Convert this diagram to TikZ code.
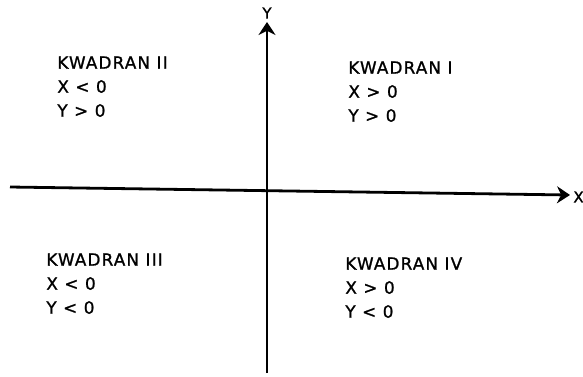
\documentclass[tikz,border=0pt]{standalone}
\usepackage{fontspec}
\setmainfont{DejaVu Sans}
\newfontfamily\kwfont[LetterSpace=7, FakeBold=1.2]{DejaVu Sans}
\usepackage{tikz}
\usetikzlibrary{arrows.meta}

\begin{document}
\begin{tikzpicture}[x=1pt, y=-1pt, line width=2.8pt,
    kwadran/.style={anchor=north west, align=left, inner sep=0pt,
      font=\kwfont\fontsize{16.8}{24}\selectfont},
    axislabel/.style={inner sep=0pt, font=\kwfont\fontsize{15}{15}\selectfont}]
    \useasboundingbox (0,0) rectangle (583,376);

    % sumbu X dan Y
    \coordinate (xstart) at (10,187);
    \coordinate (xend) at (570,195);
    \coordinate (ystart) at (267,373);
    \coordinate (yend) at (267,22);
    \draw[-{Stealth[length=13pt, width=17pt]}] (xstart) -- (xend);
    \draw[-{Stealth[length=13pt, width=17pt]}] (ystart) -- (yend);
    \node[axislabel, anchor=west] (xlabel) at (572,197) {X};
    \node[axislabel] (ylabel) at (267,13) {Y};

    % keempat kuadran
    \node[kwadran] (kw1) at (347,60) {KWADRAN I\\X > 0\\Y > 0};
    \node[kwadran] (kw2) at (56,55) {KWADRAN II\\X < 0\\Y > 0};
    \node[kwadran] (kw3) at (45,252) {KWADRAN III\\X < 0\\Y < 0};
    \node[kwadran] (kw4) at (344,256) {KWADRAN IV\\X > 0\\Y < 0};
\end{tikzpicture}
\end{document}
